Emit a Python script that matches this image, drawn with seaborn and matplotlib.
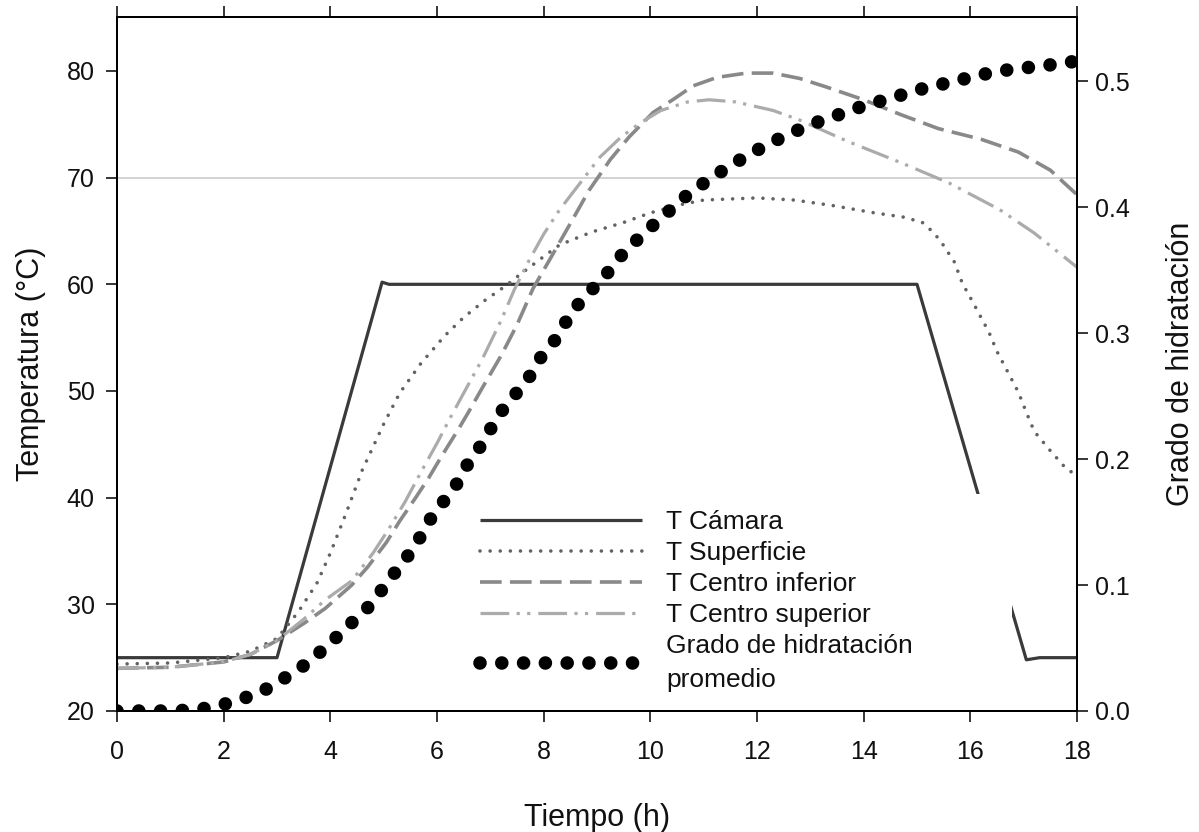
import matplotlib
matplotlib.use("Agg")
import matplotlib.pyplot as plt
import seaborn as sns
import numpy as np

# Chamber temperature program (h, °C)
t_camara = [0, 3.0, 4.97, 5.1, 15.0, 17.05, 17.3, 18.0]
T_camara = [25.0, 25.0, 60.2, 60.0, 60.0, 24.8, 25.0, 25.0]

# Surface temperature
t_superficie = [0, 1, 2, 2.5, 3, 3.4, 3.75, 4.0, 4.3, 4.6, 5.0, 5.3, 5.7, 6.15,
                6.5, 6.9, 7.3, 7.5, 8.0, 8.3, 8.9, 9.5, 10.0, 10.6, 11.0, 12.0,
                12.7, 13.4, 14.2, 14.75, 15.1, 15.3, 15.45, 15.7, 15.85, 16.05,
                16.35, 16.5, 16.7, 16.9, 17.05, 17.2, 17.5, 17.8, 18.0]
T_superficie = [24.4, 24.5, 25.0, 25.6, 26.8, 29.3, 32.0, 34.8, 38.6, 42.6, 46.9,
                49.8, 52.6, 55.2, 56.9, 58.5, 59.9, 60.7, 62.6, 63.7, 64.9, 65.8,
                66.7, 67.5, 67.9, 68.1, 67.9, 67.4, 66.7, 66.3, 65.8, 64.9, 64.0,
                62.1, 60.1, 58.3, 55.5, 53.7, 51.8, 49.9, 48.0, 46.2, 44.4, 42.7, 42.1]

# Lower centre temperature
t_inferior = [0, 1, 2, 2.5, 3.0, 3.5, 3.9, 4.4, 4.7, 5.05, 5.3, 5.6, 5.85, 6.1,
              6.4, 6.6, 6.85, 7.2, 7.5, 7.8, 8.1, 8.5, 8.85, 9.25, 9.6, 10.05,
              10.45, 10.8, 11.25, 11.8, 12.3, 12.8, 13.3, 14.0, 14.7, 15.4, 16.2,
              16.9, 17.5, 18.0]
T_inferior = [24.0, 24.1, 24.6, 25.3, 26.6, 28.2, 29.6, 31.8, 33.5, 35.8, 37.8,
              40.0, 41.9, 44.0, 46.4, 48.1, 50.3, 53.3, 56.2, 59.6, 62.2, 65.7,
              68.8, 71.7, 73.8, 76.1, 77.4, 78.6, 79.4, 79.8, 79.8, 79.3, 78.5,
              77.3, 75.9, 74.6, 73.6, 72.4, 70.7, 68.4]

# Upper centre temperature
t_superior = [0, 1, 2, 2.5, 3.0, 3.5, 3.9, 4.4, 4.8, 5.1, 5.4, 5.7, 6.0, 6.25,
              6.5, 6.85, 7.2, 7.45, 7.7, 8.0, 8.3, 8.7, 9.05, 9.45, 9.8, 10.2,
              10.7, 11.1, 11.6, 12.3, 12.8, 13.7, 14.7, 15.6, 16.55, 17.2, 18.0]
T_superior = [24.0, 24.1, 24.6, 25.3, 26.6, 28.6, 30.4, 32.2, 34.8, 37.1, 39.6,
              42.4, 45.1, 47.5, 49.8, 53.0, 56.6, 59.5, 62.0, 64.7, 67.0, 69.6,
              71.9, 73.8, 75.1, 76.3, 77.1, 77.3, 77.1, 76.3, 75.4, 73.4, 71.4,
              69.5, 67.0, 64.8, 61.6]

# Mean degree of hydration
t_hidratacion = [0, 0.5, 1.0, 1.5, 1.9, 2.3, 2.7, 3.1, 3.5, 3.9, 4.3, 4.7, 5.0,
                 5.3, 5.6, 5.8, 6.1, 6.4, 6.6, 6.9, 7.1, 7.4, 7.7, 7.95, 8.3, 8.5,
                 8.85, 9.2, 9.5, 9.9, 10.3, 10.7, 11.1, 11.5, 11.9, 12.3, 12.7,
                 13.1, 13.5, 13.9, 14.3, 14.7, 15.1, 15.5, 15.9, 16.3, 16.7, 17.1,
                 17.5, 18.0]
H_hidratacion = [0, 0, 0, 0.001, 0.004, 0.009, 0.015, 0.025, 0.036, 0.050, 0.066,
                 0.082, 0.098, 0.115, 0.131, 0.148, 0.165, 0.182, 0.198, 0.215,
                 0.232, 0.248, 0.263, 0.281, 0.299, 0.316, 0.332, 0.348, 0.364,
                 0.380, 0.395, 0.410, 0.422, 0.433, 0.443, 0.452, 0.460, 0.467,
                 0.473, 0.479, 0.484, 0.489, 0.494, 0.498, 0.502, 0.506, 0.509,
                 0.511, 0.513, 0.516]

x_ticks = [0, 2, 4, 6, 8, 10, 12, 14, 16, 18]
temp_ticks = [20, 30, 40, 50, 60, 70, 80]
hyd_ticks = [0.0, 0.1, 0.2, 0.3, 0.4, 0.5]
hyd_tick_labels = ["0.0", "0.1", "0.2", "0.3", "0.4", "0.5"]
referencia = 70

labels = ["T Cámara", "T Superficie", "T Centro inferior", "T Centro superior",
          "Grado de hidratación\npromedio"]

sns.set_theme(style="white")
plt.rcParams["font.family"] = ["Liberation Sans", "DejaVu Sans"]

fig = plt.figure(figsize=(11.99, 8.32), dpi=100)
ax = fig.add_axes([117 / 1199, 1 - 711 / 832, 960 / 1199, 694 / 832])
ax2 = ax.twinx()

ax.axhline(referencia, color="#c8c8c8", lw=1.1, zorder=0.5)

handles = []
sns.lineplot(x=t_camara, y=T_camara, ax=ax, color="#3a3a3a", linewidth=2.3,
             legend=False, solid_capstyle="butt", solid_joinstyle="round")
handles.append(ax.lines[-1])
sns.lineplot(x=t_superficie, y=T_superficie, ax=ax, color="#626262", linewidth=2.6,
             linestyle=(0, (0.001, 2.8)), dash_capstyle="round", legend=False)
handles.append(ax.lines[-1])
sns.lineplot(x=t_inferior, y=T_inferior, ax=ax, color="#898989", linewidth=2.6,
             linestyle=(0, (6.0, 2.3)), dash_capstyle="butt", legend=False)
handles.append(ax.lines[-1])
sns.lineplot(x=t_superior, y=T_superior, ax=ax, color="#ababab", linewidth=2.3,
             linestyle=(0, (9.0, 2.3, 1.0, 2.3, 1.0, 2.5)), dash_capstyle="butt",
             legend=False)
handles.append(ax.lines[-1])
sns.lineplot(x=t_hidratacion, y=H_hidratacion, ax=ax2, color="black", linewidth=9.8,
             linestyle=(0, (0.001, 1.6)), dash_capstyle="round", legend=False)
handles.append(ax2.lines[-1])

ax.set_xlim(0, 18)
ax.set_ylim(20, 85.06)
ax2.set_ylim(0, 0.551)

ax.set_xticks(x_ticks)
ax.set_xticklabels([str(v) for v in x_ticks])
ax.set_yticks(temp_ticks)
ax.set_yticklabels([str(v) for v in temp_ticks])
ax2.set_yticks(hyd_ticks)
ax2.set_yticklabels(hyd_tick_labels)

tick_kw = dict(direction="out", length=8, width=1.1, color="black",
               labelsize=18, labelcolor="#111111")
ax.tick_params(axis="x", which="major", bottom=True, top=True, labeltop=False,
               pad=13, **tick_kw)
ax.tick_params(axis="y", which="major", left=True, right=False, pad=8, **tick_kw)
ax2.tick_params(axis="y", which="major", right=True, pad=5, **tick_kw)

for a in (ax, ax2):
    for sp in a.spines.values():
        sp.set_visible(True)
        sp.set_color("black")
        sp.set_linewidth(1.4)

ax.set_xlabel("Tiempo (h)", fontsize=22, color="#111111")
ax.xaxis.set_label_coords(0.5, -0.132)
ax.set_ylabel("Temperatura (°C)", fontsize=22, color="#111111")
ax.yaxis.set_label_coords(-0.074, 0.5)
ax2.set_ylabel("Grado de hidratación", fontsize=22, color="#111111", rotation=90)
ax2.yaxis.set_label_coords(1.093, 0.5)

leg = ax2.legend(handles, labels, loc="upper left",
                 bbox_to_anchor=(0.3615, 0.0, 0.5708, 0.3127), mode="expand",
                 frameon=True, facecolor="white", edgecolor="none", framealpha=1,
                 fancybox=False, fontsize=19, handlelength=6.15, handletextpad=0.9,
                 labelspacing=0.27, borderpad=0.6, borderaxespad=0)
for txt in leg.get_texts():
    txt.set_color("#111111")
    txt.set_linespacing(1.5)
leg.set_zorder(10)

fig.savefig("out.png", dpi=100)
